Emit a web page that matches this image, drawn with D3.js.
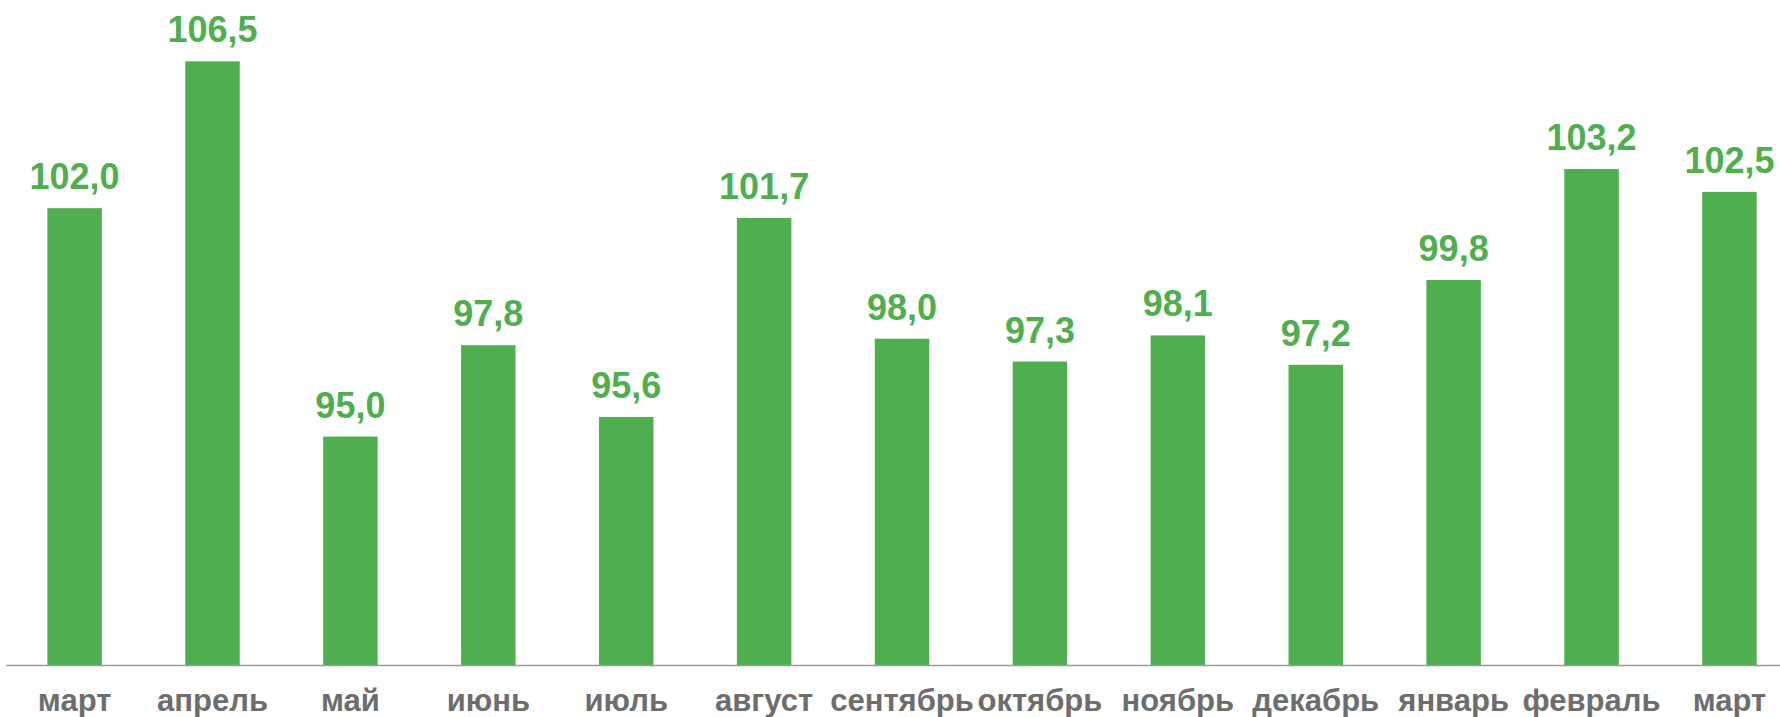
<!DOCTYPE html>
<html>
<head>
<meta charset="utf-8">
<script src="https://cdn.jsdelivr.net/npm/d3@7"></script>
<style>
    html, body { margin: 0; padding: 0; background: #fff; overflow: hidden; }
    #chart { width: 1780px; height: 717px; }
</style>
</head>
<body>
<div id="chart"></div>
<script>
// months (last one repeats, so bars are keyed by index)
const months = ["март", "апрель", "май", "июнь", "июль", "август", "сентябрь",
    "октябрь", "ноябрь", "декабрь", "январь", "февраль", "март"];
const values = [102.0, 106.5, 95.0, 97.8, 95.6, 101.7, 98.0, 97.3, 98.1, 97.2, 99.8, 103.2, 102.5];
const yDomain = [88, 108.38];

let width = 1780,
    height = 717;

let svg = d3.select("#chart").append("svg")
    .attr("width", width)
    .attr("height", height);

// scales (plot area runs a bit past the right edge, as in the picture)
let x = d3.scaleBand()
    .domain(d3.range(months.length))
    .range([5.65, 1798.4])
    .paddingInner(0.605)
    .paddingOuter(0.3025);

let y = d3.scaleLinear()
    .domain(yDomain)
    .range([665, 0]);

// bars
svg.append("g")
    .selectAll("rect")
    .data(values)
    .join("rect")
    .attr("x", (d, i) => x(i))
    .attr("y", d => y(d))
    .attr("width", x.bandwidth())
    .attr("height", d => y(yDomain[0]) - y(d))
    .attr("fill", "#4faf4f");

// value labels
svg.append("g")
    .selectAll("text")
    .data(values)
    .join("text")
    .attr("x", (d, i) => x(i) + x.bandwidth() / 2)
    .attr("y", d => y(d) - 19)
    .attr("text-anchor", "middle")
    .attr("font-family", "'Liberation Sans', Arial, sans-serif")
    .attr("font-weight", "bold")
    .attr("font-size", "36px")
    .attr("fill", "#4faf4f")
    .text(d => d3.format(".1f")(d).replace(".", ","));

// x axis
let xAxis = svg.append("g")
    .attr("transform", "translate(0," + y(yDomain[0]) + ")")
    .call(d3.axisBottom(x).tickSize(0).tickPadding(46).tickFormat(i => months[i]));

xAxis.select(".domain")
    .attr("stroke", "#9a9a9a")
    .attr("stroke-width", 1.6);

xAxis.selectAll("text")
    .attr("dy", 0)
    .attr("font-family", "'Liberation Sans', Arial, sans-serif")
    .attr("font-weight", "bold")
    .attr("font-size", "31px")
    .attr("fill", "#6d6d6d");
</script>
</body>
</html>
